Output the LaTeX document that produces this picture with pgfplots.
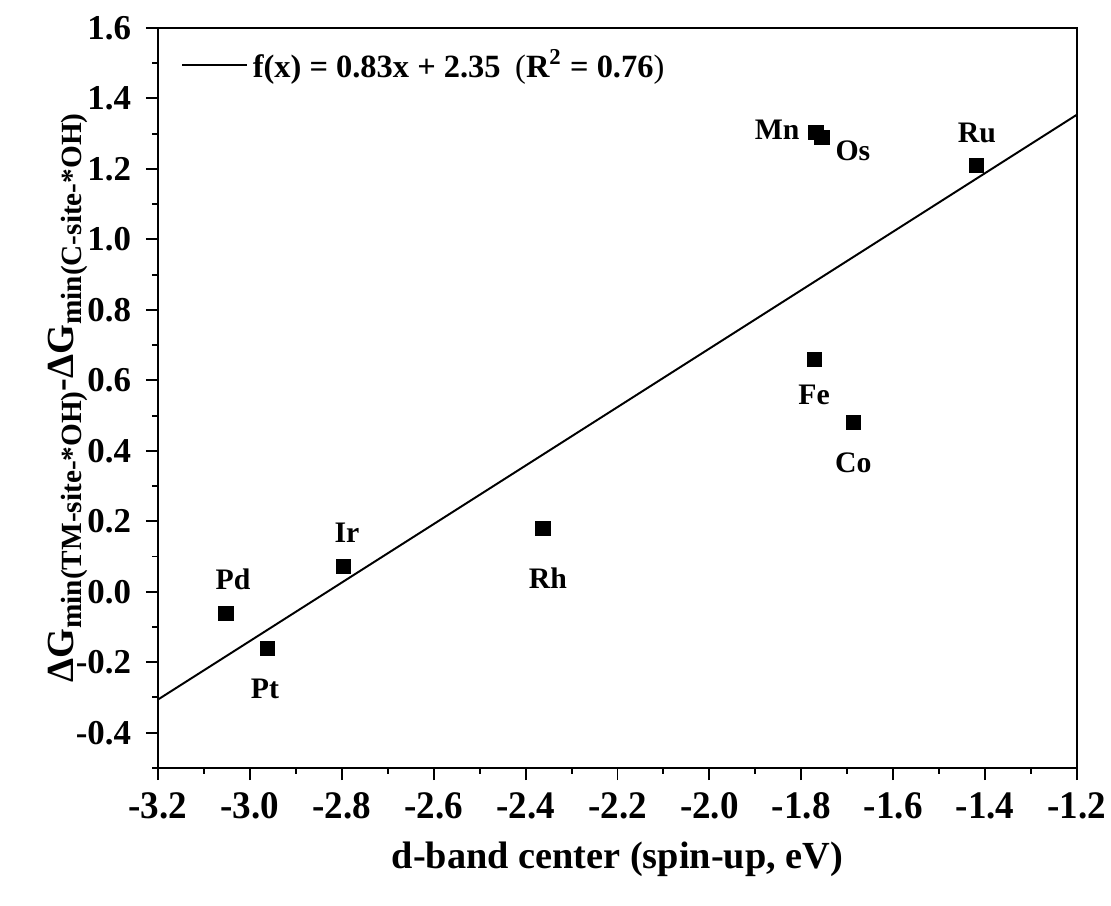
\documentclass[border=0pt]{standalone}
\usepackage{fontspec}
\setmainfont{Liberation Serif}
\newfontfamily\narrowserif{Liberation Serif}[FakeStretch=0.95]
\usepackage{pgfplots}
\usepackage{pgfplotstable}
\pgfplotsset{compat=1.18}
\pgfplotsset{fitline/.style={legend image code/.code={\draw[##1] (0cm,0cm) -- (0.93cm,0cm);}}}
\newcommand{\sub}[1]{\raisebox{-0.45ex}{\fontsize{12}{14}\selectfont #1}}

% d-band centre vs. Delta G difference, one row per metal
\pgfplotstableread{
x      y      name dx    dy
-3.052 -0.061 Pd   2.9   13.9
-2.961 -0.160 Pt  -1.2  -16.7
-2.797  0.071 Ir   1.6   13.9
-2.362  0.179 Rh   2.0  -20.4
-1.772  0.660 Fe   0.0  -14.7
-1.687  0.481 Co   0.0  -16.7
-1.768  1.303 Mn -15.9    1.2
-1.755  1.289 Os  12.7   -5.3
-1.418  1.209 Ru   0.0   13.5
}\dbandtable

\begin{document}
\begin{tikzpicture}
\begin{axis}[
  scale only axis, width=13.24cm, height=10.66cm,
  xmin=-3.2, xmax=-1.2, ymin=-0.5, ymax=1.6,
  xtick distance=0.2, ytick distance=0.2, minor tick num=1,
  xtick pos=bottom, ytick pos=left, tick align=outside,
  major tick length=5pt, minor tick length=2.3pt,
  every tick/.style={black, line width=0.8pt},
  axis line style={line width=0.9pt},
  y tick label style={font=\fontsize{14.3}{16}\selectfont\bfseries, xshift=-2.5pt},
  x tick label style={font=\narrowserif\fontsize{16}{18}\selectfont\bfseries, yshift=-1.5pt},
  /pgf/number format/.cd, fixed, fixed zerofill, precision=1, assume math mode=true,
  /pgfplots/.cd,
  xlabel={d-band center (spin-up, eV)},
  ylabel={ΔG\sub{min(TM-site-*OH)}-ΔG\sub{min(C-site-*OH)}},
  every axis x label/.style={at={(axis description cs:0.5,-0.123)}, anchor=center,
    font=\fontsize{15.7}{18}\selectfont\bfseries},
  every axis y label/.style={at={(axis description cs:-0.098,0.5)}, anchor=center, rotate=90,
    font=\fontsize{15.7}{18}\selectfont\bfseries},
  legend style={draw=none, fill=none, at={(axis description cs:0.017,0.985)}, anchor=north west,
    font=\fontsize{13.3}{16}\selectfont\bfseries},
  legend cell align=left,
]
\addplot[black, line width=0.8pt, fitline]
  coordinates {(-3.2,-0.306) (-1.2,1.354)};
\addlegendentry{f(x) = 0.83x + 2.35\hspace{0.45em}{\mdseries(}R\textsuperscript{2} = 0.76{\mdseries)}}

\addplot[only marks, mark=square*, mark size=2.9pt, black, forget plot,
  point meta=explicit symbolic, nodes near coords,
  visualization depends on={\thisrow{dx}\as\dx},
  visualization depends on={\thisrow{dy}\as\dy},
  nodes near coords style={anchor=center, xshift=\dx*1pt, yshift=\dy*1pt,
    font=\fontsize{12.2}{14}\selectfont\bfseries, black}]
  table[x=x, y=y, meta=name] {\dbandtable};
\end{axis}
\pgfresetboundingbox
\path ([shift={(-2.276cm,-1.987cm)}]current axis.south west) rectangle ([shift={(0.49cm,0.403cm)}]current axis.north east);
\end{tikzpicture}
\end{document}
